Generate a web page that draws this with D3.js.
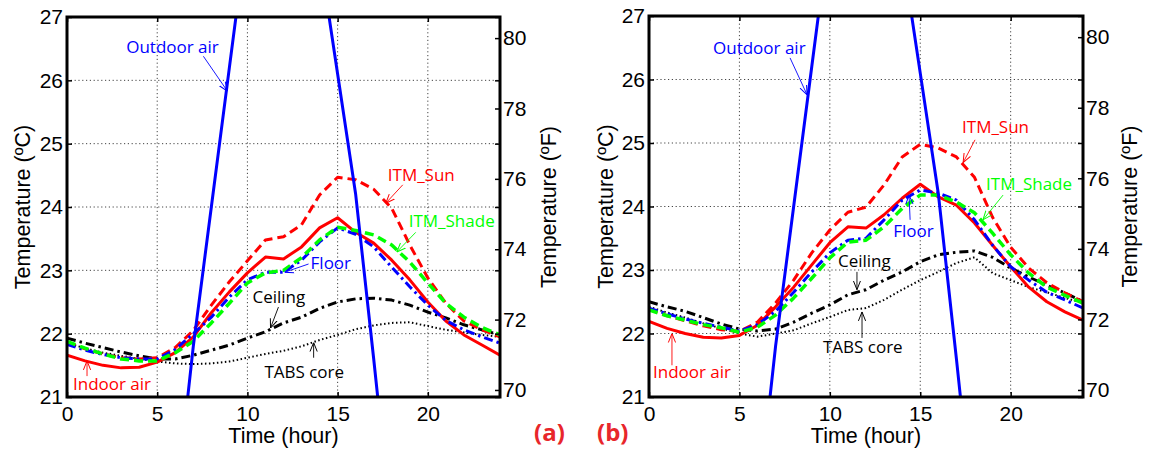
<!DOCTYPE html>
<html>
  <head>
    <meta charset="utf-8">
    <title>Indoor temperatures</title>
    <script type="text/javascript" src="https://cdn.jsdelivr.net/npm/d3@7"></script>
    <style>
      body { margin: 0; background: #fff; }
      .tick text { font-family: "Liberation Sans", Arial, sans-serif; font-size: 21px; fill: #000; }
      .note { font-family: "Open Sans", sans-serif; font-size: 17px; }
      .title { font-family: "Liberation Sans", Arial, sans-serif; font-size: 21.5px; }
    </style>
  </head>
  <body>
    <script>

// hours of the day
var hours = [0, 1, 2, 3, 4, 5, 6, 7, 8, 9, 10, 11, 12, 13, 14, 15, 16, 17, 18, 19, 20, 21, 22, 23, 24];

// outdoor air goes far outside the plotted range, same weather in both cases
var outdoorAir = [16.5, 16.0, 15.6, 15.3, 15.2, 15.6, 19.2, 21.8, 24.0, 26.2, 28.4, 30.2, 31.0, 30.0, 28.0, 26.1, 24.2, 21.6, 18.9, 17.8, 17.2, 16.9, 16.7, 16.6, 16.5];

// case (a)
var indoorA   = [21.66, 21.57, 21.50, 21.46, 21.47, 21.55, 21.70, 21.95, 22.33, 22.66, 22.96, 23.21, 23.18, 23.37, 23.67, 23.83, 23.60, 23.43, 23.16, 22.85, 22.50, 22.20, 21.98, 21.82, 21.66];
var itmSunA   = [21.86, 21.76, 21.68, 21.62, 21.60, 21.62, 21.78, 22.05, 22.45, 22.82, 23.15, 23.48, 23.53, 23.72, 24.19, 24.47, 24.43, 24.28, 23.98, 23.40, 22.88, 22.48, 22.20, 22.06, 21.95];
var itmShadeA = [21.88, 21.77, 21.68, 21.60, 21.57, 21.57, 21.70, 21.88, 22.17, 22.48, 22.80, 22.96, 23.00, 23.20, 23.48, 23.68, 23.63, 23.56, 23.40, 23.13, 22.80, 22.48, 22.26, 22.10, 21.98];
var floorA    = [21.83, 21.74, 21.67, 21.62, 21.60, 21.60, 21.75, 22.00, 22.26, 22.58, 22.85, 22.97, 22.97, 23.16, 23.45, 23.67, 23.57, 23.37, 23.05, 22.74, 22.45, 22.21, 22.06, 21.95, 21.85];
var ceilingA  = [21.93, 21.85, 21.78, 21.71, 21.65, 21.60, 21.60, 21.66, 21.74, 21.82, 21.93, 22.03, 22.17, 22.26, 22.40, 22.50, 22.55, 22.56, 22.53, 22.45, 22.34, 22.25, 22.14, 22.06, 21.98];
var tabsA     = [21.85, 21.77, 21.70, 21.65, 21.60, 21.56, 21.53, 21.52, 21.53, 21.56, 21.62, 21.68, 21.73, 21.80, 21.90, 21.98, 22.07, 22.13, 22.17, 22.18, 22.12, 22.06, 22.02, 21.98, 21.95];

// case (b)
var indoorB   = [22.19, 22.08, 22.00, 21.94, 21.93, 21.97, 22.13, 22.42, 22.73, 23.08, 23.43, 23.68, 23.66, 23.87, 24.13, 24.35, 24.15, 24.02, 23.74, 23.39, 23.05, 22.73, 22.50, 22.34, 22.21];
var itmSunB   = [22.38, 22.28, 22.20, 22.12, 22.06, 22.03, 22.18, 22.48, 22.84, 23.27, 23.63, 23.91, 23.99, 24.34, 24.78, 24.98, 24.92, 24.78, 24.46, 23.83, 23.36, 23.03, 22.80, 22.64, 22.50];
var itmShadeB = [22.37, 22.28, 22.21, 22.14, 22.09, 22.02, 22.10, 22.29, 22.56, 22.87, 23.19, 23.44, 23.47, 23.68, 23.97, 24.18, 24.18, 24.07, 23.90, 23.58, 23.24, 22.95, 22.73, 22.60, 22.48];
var floorB    = [22.40, 22.31, 22.23, 22.16, 22.10, 22.04, 22.14, 22.35, 22.65, 22.97, 23.27, 23.47, 23.50, 23.79, 24.10, 24.26, 24.21, 24.10, 23.79, 23.39, 23.05, 22.84, 22.65, 22.53, 22.40];
var ceilingB  = [22.50, 22.42, 22.35, 22.25, 22.15, 22.07, 22.04, 22.07, 22.18, 22.32, 22.45, 22.61, 22.69, 22.84, 22.97, 23.13, 23.24, 23.28, 23.30, 23.20, 23.03, 22.89, 22.76, 22.64, 22.50];
var tabsB     = [22.42, 22.33, 22.25, 22.16, 22.08, 22.00, 21.95, 22.00, 22.05, 22.16, 22.26, 22.37, 22.40, 22.53, 22.69, 22.84, 22.97, 23.11, 23.20, 22.95, 22.84, 22.73, 22.65, 22.56, 22.48];

// tick labels
var xTicks = [0, 5, 10, 15, 20];
var cTicks = [21, 22, 23, 24, 25, 26, 27];
var fTicks = [70, 72, 74, 76, 78, 80];

// annotations: label, colour, text position [hour, degC], arrow from, arrow to
var notesA = [
  ["Outdoor air", "#0000ff", [3.28, 26.43], [7.56, 26.38], [8.89, 25.83]],
  ["ITM_Sun",     "#ff0000", [17.78, 24.41], [18.61, 24.35], [17.67, 24.06]],
  ["ITM_Shade",   "#00ff00", [18.94, 23.68], [19.33, 23.60], [18.28, 23.29]],
  ["Floor",       "#0000ff", [13.5, 23.02], [13.39, 23.10], [12.06, 22.97]],
  ["Ceiling",     "#000000", [10.28, 22.48], [11.72, 22.42], [11.28, 22.09]],
  ["TABS core",   "#000000", [10.94, 21.30], [13.67, 21.62], [13.67, 21.86]],
  ["Indoor air",  "#ff0000", [0.33, 21.11], [1.11, 21.33], [1.11, 21.57]]
];
var notesB = [
  ["Outdoor air", "#0000ff", [3.54, 26.40], [7.8, 26.34], [8.74, 25.76]],
  ["ITM_Sun",     "#ff0000", [17.31, 25.16], [18.03, 25.05], [17.37, 24.69]],
  ["ITM_Shade",   "#00ff00", [18.64, 24.26], [19.58, 24.18], [18.47, 23.79]],
  ["Floor",       "#0000ff", [13.5, 23.52], [14.44, 23.79], [14.38, 24.18]],
  ["Ceiling",     "#000000", [10.45, 23.05], [11.5, 22.97], [11.5, 22.69]],
  ["TABS core",   "#000000", [9.62, 21.69], [11.78, 21.93], [11.78, 22.34]],
  ["Indoor air",  "#ff0000", [0.22, 21.30], [1.27, 21.50], [1.27, 22.00]]
];

var w = 1149;
var h = 451;

var svg = d3.select("body")
  .append("svg")
  .attr("width", w)
  .attr("height", h);

// arrow heads, one per colour
var defs = svg.append("defs");
["#0000ff", "#ff0000", "#00ff00", "#000000"].forEach(function(c) {
  defs.append("marker")
    .attr("id", "arr" + c.slice(1))
    .attr("viewBox", "0 0 10 10")
    .attr("refX", 10).attr("refY", 5)
    .attr("markerUnits", "userSpaceOnUse")
    .attr("markerWidth", 9).attr("markerHeight", 9)
    .attr("orient", "auto")
    .append("path")
    .attr("d", "M0,1 L10,5 L0,9")
    .attr("fill", "none")
    .attr("stroke", c)
    .attr("stroke-width", 1.1);
});

function drawPanel(p) {
  var x = d3.scaleLinear().domain([0, 24]).range([p.left, p.right]);
  var y = d3.scaleLinear().domain([21, 27]).range([p.bottom, p.top]);
  var yF = d3.scaleLinear().domain([21 * 1.8 + 32, 27 * 1.8 + 32]).range([p.bottom, p.top]);

  var g = svg.append("g");

  defs.append("clipPath").attr("id", "clip" + p.id)
    .append("rect")
    .attr("x", p.left).attr("y", p.top)
    .attr("width", p.right - p.left).attr("height", p.bottom - p.top);

  // dotted grid
  g.selectAll(".vgrid")
    .data(xTicks.slice(1))
    .enter().append("line")
    .attr("x1", function(d) { return x(d); })
    .attr("x2", function(d) { return x(d); })
    .attr("y1", p.top).attr("y2", p.bottom)
    .attr("stroke", "#444").attr("stroke-width", 1)
    .attr("stroke-dasharray", "1.2,2.6");
  g.selectAll(".hgrid")
    .data(cTicks.slice(1, -1))
    .enter().append("line")
    .attr("y1", function(d) { return y(d); })
    .attr("y2", function(d) { return y(d); })
    .attr("x1", p.left).attr("x2", p.right)
    .attr("stroke", "#444").attr("stroke-width", 1)
    .attr("stroke-dasharray", "1.2,2.6");

  var line = d3.line()
    .x(function(d, i) { return x(hours[i]); })
    .y(function(d) { return y(d); });

  var series = [
    [p.tabs, "#000000", 2, "1.5,2.5"],
    [p.ceiling, "#000000", 3, "9,4,2.5,4"],
    [p.indoor, "#ff0000", 3, null],
    [p.sun, "#ff0000", 3, "9,5"],
    [p.floor, "#0000ff", 3, "9,4,2.5,4"],
    [p.shade, "#00ff00", 3.5, "9,5"],
    [outdoorAir, "#0000ff", 3, null]
  ];

  var lines = g.append("g").attr("clip-path", "url(#clip" + p.id + ")");
  lines.selectAll("path")
    .data(series)
    .enter().append("path")
    .attr("d", function(d) { return line(d[0]); })
    .attr("fill", "none")
    .attr("stroke", function(d) { return d[1]; })
    .attr("stroke-width", function(d) { return d[2]; })
    .attr("stroke-dasharray", function(d) { return d[3]; })
    .attr("stroke-linejoin", "round");

  // annotations
  g.selectAll(".note")
    .data(p.notes)
    .enter().append("text")
    .attr("class", "note")
    .attr("x", function(d) { return x(d[2][0]); })
    .attr("y", function(d) { return y(d[2][1]); })
    .attr("fill", function(d) { return d[1]; })
    .text(function(d) { return d[0]; });
  g.selectAll(".arrow")
    .data(p.notes)
    .enter().append("line")
    .attr("x1", function(d) { return x(d[3][0]); })
    .attr("y1", function(d) { return y(d[3][1]); })
    .attr("x2", function(d) { return x(d[4][0]); })
    .attr("y2", function(d) { return y(d[4][1]); })
    .attr("stroke", function(d) { return d[1]; })
    .attr("stroke-width", 0.9)
    .attr("marker-end", function(d) { return "url(#arr" + d[1].slice(1) + ")"; });

  // axes, ticks pointing inward
  var fmt = d3.format("d");
  var ax = g.append("g").attr("transform", "translate(0," + p.bottom + ")")
    .call(d3.axisBottom(x).tickValues(xTicks).tickFormat(fmt).tickSize(-5).tickPadding(9));
  g.append("g").attr("transform", "translate(0," + p.top + ")")
    .call(d3.axisTop(x).tickValues(xTicks).tickSize(-5).tickFormat(""));
  g.append("g").attr("transform", "translate(" + p.left + ",0)")
    .call(d3.axisLeft(y).tickValues(cTicks).tickFormat(fmt).tickSize(-5).tickPadding(4));
  g.append("g").attr("transform", "translate(" + p.right + ",0)")
    .call(d3.axisRight(y).tickValues(cTicks).tickSize(-5).tickFormat(""));
  g.append("g").attr("transform", "translate(" + p.right + ",0)")
    .call(d3.axisRight(yF).tickValues(fTicks).tickFormat(fmt).tickSize(-5).tickPadding(3));
  g.selectAll(".domain").remove();
  g.selectAll(".tick line").attr("stroke", "#000").attr("stroke-width", 1.5);

  // frame
  g.append("rect")
    .attr("x", p.left).attr("y", p.top)
    .attr("width", p.right - p.left).attr("height", p.bottom - p.top)
    .attr("fill", "none").attr("stroke", "#000").attr("stroke-width", 3);

  // axis titles
  g.append("text").attr("class", "title")
    .attr("transform", "translate(" + p.labL + "," + ((p.top + p.bottom) / 2) + ") rotate(-90)")
    .attr("text-anchor", "middle")
    .text("Temperature (\u00baC)");
  g.append("text").attr("class", "title")
    .attr("transform", "translate(" + p.labR + "," + ((p.top + p.bottom) / 2) + ") rotate(-90)")
    .attr("text-anchor", "middle")
    .text("Temperature (\u00baF)");
  g.append("text").attr("class", "title")
    .attr("x", (p.left + p.right) / 2).attr("y", 443)
    .attr("text-anchor", "middle")
    .text("Time (hour)");

  g.append("text")
    .attr("x", p.tagX).attr("y", 441)
    .attr("font-family", "Open Sans, sans-serif")
    .attr("font-weight", "bold")
    .attr("font-size", "24px")
    .attr("fill", "#e8262b")
    .text(p.tag);
}

drawPanel({ id: "a", left: 67, right: 500, top: 17, bottom: 397, labL: 30, labR: 556, tagX: 534, tag: "(a)",
  indoor: indoorA, sun: itmSunA, shade: itmShadeA, floor: floorA, ceiling: ceilingA, tabs: tabsA, notes: notesA });
drawPanel({ id: "b", left: 649, right: 1083, top: 16, bottom: 397, labL: 613, labR: 1137, tagX: 597, tag: "(b)",
  indoor: indoorB, sun: itmSunB, shade: itmShadeB, floor: floorB, ceiling: ceilingB, tabs: tabsB, notes: notesB });

    </script>
  </body>
</html>
